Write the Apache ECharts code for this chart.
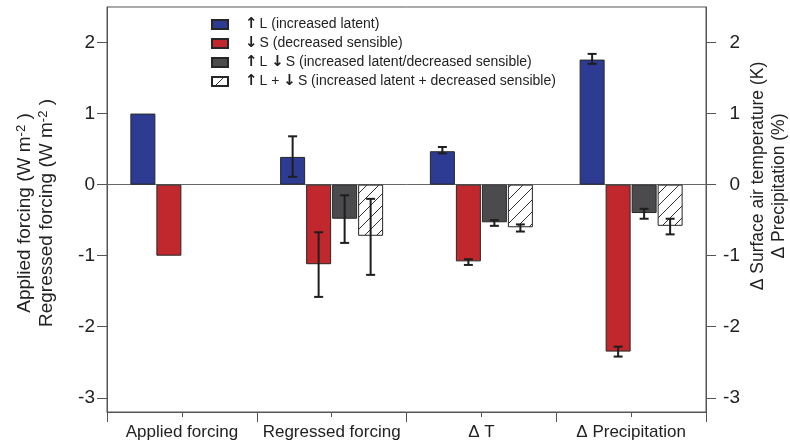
<!DOCTYPE html>
<html>
<head>
<meta charset="utf-8">
<script src="https://cdn.jsdelivr.net/npm/echarts@6/dist/echarts.min.js"></script>
<style>html,body{margin:0;padding:0;background:#fff;}#c{width:790px;height:443px;}</style>
</head>
<body>
<div id="c"></div>
<script>
// ---- data ----
const categories = ['Applied forcing', 'Regressed forcing', 'Δ T', 'Δ Precipitation'];
const seriesNames = ['upL', 'downS', 'upLdownS', 'upLplusdownS'];
const incLatent      = [1.00, 0.39, 0.47, 1.76];
const decSensible    = [-1.00, -1.12, -1.08, -2.35];
const incLatDecSens  = [null, -0.48, -0.53, -0.40];
const incLatPlusDecSens = [null, -0.72, -0.60, -0.58];
// error bars: [low, high]
const errIncLatent      = [null, [0.11, 0.68], [0.44, 0.53], [1.70, 1.84]];
const errDecSensible    = [null, [-1.58, -0.67], [-1.13, -1.05], [-2.42, -2.28]];
const errIncLatDecSens  = [null, [-0.82, -0.15], [-0.58, -0.50], [-0.48, -0.34]];
const errIncLatPlusDecSens = [null, [-1.27, -0.20], [-0.66, -0.56], [-0.70, -0.48]];
const yTicks = [-3, -2, -1, 0, 1, 2];
const legendLabels = [
  '{ar|↑}L (increased latent)',
  '{ar|↓}S (decreased sensible)',
  '{ar|↑}L {ar|↓}S (increased latent/decreased sensible)',
  '{ar|↑}L + {ar|↓}S (increased latent + decreased sensible)'
];

// ---- styles ----
const FONT = "'Liberation Sans', Arial, Helvetica, sans-serif";
const BAR_W = 25, BAR_GAP = 1;
const colors = ['#2e3b92', '#c1282d', '#4b4b4d', null];

function hatch() {
  const s = 12;
  const cv = document.createElement('canvas');
  cv.width = s; cv.height = s;
  const g = cv.getContext('2d');
  g.fillStyle = '#ffffff'; g.fillRect(0, 0, s, s);
  g.strokeStyle = '#333'; g.lineWidth = 1;
  g.beginPath();
  g.moveTo(0, s); g.lineTo(s, 0);
  g.moveTo(-2, 2); g.lineTo(2, -2);
  g.moveTo(s - 2, s + 2); g.lineTo(s + 2, s - 2);
  g.stroke();
  return {image: cv, repeat: 'repeat'};
}

const values = [incLatent, decSensible, incLatDecSens, incLatPlusDecSens];
const errs = [errIncLatent, errDecSensible, errIncLatDecSens, errIncLatPlusDecSens];

const series = [];
values.forEach((v, i) => {
  const s = {
    name: seriesNames[i],
    type: 'bar',
    data: v,
    barWidth: BAR_W,
    barGap: (BAR_GAP / BAR_W * 100) + '%',
    itemStyle: {color: i === 3 ? hatch() : colors[i], borderColor: '#262626', borderWidth: 1},
    z: 2
  };
  if (i === 0) {
    s.markLine = {
      silent: true, symbol: 'none', label: {show: false},
      lineStyle: {color: '#666', type: 'solid', width: 1},
      data: [{yAxis: 0}], z: 1
    };
  }
  series.push(s);
});
errs.forEach((e, i) => {
  const data = [];
  e.forEach((r, k) => { if (r) data.push([k, r[0], r[1]]); });
  const off = (i - 1.5) * (BAR_W + BAR_GAP);
  series.push({
    name: 'err' + i,
    type: 'custom',
    data: data,
    z: 5,
    encode: {x: 0, y: [1, 2]},
    renderItem: function (params, api) {
      const lo = api.coord([api.value(0), api.value(1)]);
      const hi = api.coord([api.value(0), api.value(2)]);
      const x = lo[0] + off;
      const cw = 4.5;
      const st = {stroke: '#1e1e1e', lineWidth: 2};
      return {type: 'group', children: [
        {type: 'line', shape: {x1: x, y1: lo[1], x2: x, y2: hi[1]}, style: st},
        {type: 'line', shape: {x1: x - cw, y1: lo[1], x2: x + cw, y2: lo[1]}, style: st},
        {type: 'line', shape: {x1: x - cw, y1: hi[1], x2: x + cw, y2: hi[1]}, style: st}
      ]};
    }
  });
});

const axisColor = '#555';
const option = {
  animation: false,
  backgroundColor: '#fff',
  textStyle: {fontFamily: FONT},
  grid: {left: 107, right: 84, top: 7, bottom: 31, show: true, borderColor: axisColor, borderWidth: 1, backgroundColor: 'transparent'},
  legend: {
    data: seriesNames,
    orient: 'vertical',
    left: 211, top: 17, padding: 0,
    itemWidth: 16, itemHeight: 9, itemGap: 4,
    icon: 'rect',
    selectedMode: false,
    formatter: function (name) { return legendLabels[seriesNames.indexOf(name)]; },
    textStyle: {fontFamily: FONT, fontSize: 14, color: '#222', lineHeight: 14, padding: [0, 0, 0, 12],
      rich: {ar: {fontFamily: "'DejaVu Sans'", fontWeight: 'bold', fontSize: 15, lineHeight: 14, color: '#222', padding: [0, 2, 0, 0]}}}
  },
  xAxis: [
    {type: 'category', data: categories, position: 'bottom',
     axisLine: {show: true, onZero: false, lineStyle: {color: axisColor}},
     axisTick: {show: true, alignWithLabel: false, interval: 0, length: 10, lineStyle: {color: axisColor}},
     axisLabel: {fontSize: 17, color: '#222', margin: 12, interval: 0, fontFamily: FONT},
     splitLine: {show: false}},
    {type: 'category', data: categories, position: 'bottom',
     axisLine: {show: false, onZero: false},
     axisTick: {show: true, alignWithLabel: true, interval: 0, length: 5, lineStyle: {color: axisColor}},
     axisLabel: {show: false}, splitLine: {show: false}}
  ],
  yAxis: [
    {type: 'value', min: -3.2, max: 2.5, position: 'left',
     axisLine: {show: true, onZero: false, lineStyle: {color: axisColor}},
     axisTick: {show: true, length: 10, customValues: yTicks, lineStyle: {color: axisColor}},
     axisLabel: {fontSize: 19, color: '#222', margin: 12, customValues: yTicks, fontFamily: FONT},
     splitLine: {show: false}},
    {type: 'value', min: -3.2, max: 2.5, position: 'right',
     axisLine: {show: true, onZero: false, lineStyle: {color: axisColor}},
     axisTick: {show: true, length: 10, customValues: yTicks, lineStyle: {color: axisColor}},
     axisLabel: {fontSize: 19, color: '#222', margin: 34, align: 'right', customValues: yTicks, fontFamily: FONT},
     splitLine: {show: false}}
  ],
  graphic: [
    {type: 'text', x: 25, y: 213, rotation: Math.PI / 2,
     style: {text: 'Applied forcing (W m{sup|-2} )', fontSize: 19, fontFamily: FONT, fill: '#222', align: 'center', verticalAlign: 'middle',
       rich: {sup: {fontSize: 13, fontFamily: FONT, fill: '#222', verticalAlign: 'top', padding: [0, 0, 8, 0]}}}},
    {type: 'text', x: 47, y: 213, rotation: Math.PI / 2,
     style: {text: 'Regressed forcing (W m{sup|-2} )', fontSize: 19, fontFamily: FONT, fill: '#222', align: 'center', verticalAlign: 'middle',
       rich: {sup: {fontSize: 13, fontFamily: FONT, fill: '#222', verticalAlign: 'top', padding: [0, 0, 8, 0]}}}},
    {type: 'text', x: 758, y: 176, rotation: Math.PI / 2,
     style: {text: 'Δ Surface air temperature (K)', fontSize: 17.5, fontFamily: FONT, fill: '#222', align: 'center', verticalAlign: 'middle'}},
    {type: 'text', x: 779, y: 186, rotation: Math.PI / 2,
     style: {text: 'Δ Precipitation (%)', fontSize: 17.5, fontFamily: FONT, fill: '#222', align: 'center', verticalAlign: 'middle'}}
  ],
  series: series
};
const chart = echarts.init(document.getElementById('c'), null, {renderer: 'canvas'});
chart.setOption(option);
</script>
</body>
</html>
